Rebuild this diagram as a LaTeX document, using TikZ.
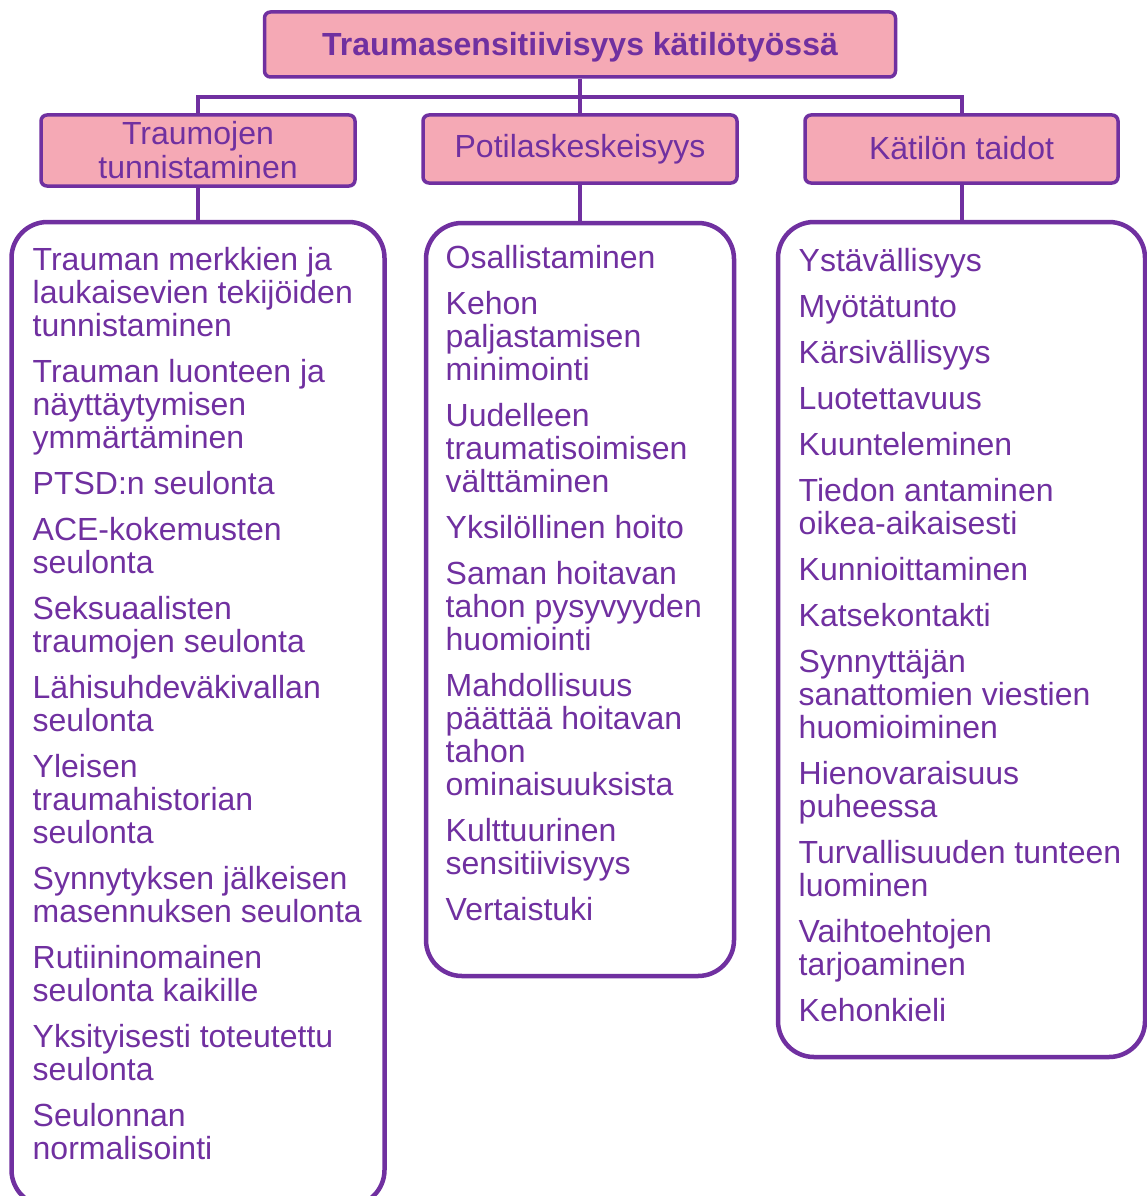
\documentclass[tikz,border=0pt]{standalone}
\usepackage{fontspec}
\setmainfont{Liberation Sans}
\usetikzlibrary{positioning}
\definecolor{lila}{HTML}{7030A0}
\definecolor{roosa}{HTML}{F5A9B5}

\begin{document}
\begin{tikzpicture}[x=1pt, y=-1pt,
  otsikko/.style={draw=lila, fill=roosa, line width=3.5pt, rounded corners=6pt,
    text=lila, font=\fontsize{32}{34}\selectfont, align=center, inner sep=0pt},
  lista/.style={draw=lila, line width=4.5pt, rounded corners=36pt},
  kohdat/.style={text=lila, font=\fontsize{32}{33}\selectfont, align=left,
    anchor=north west, inner sep=0pt},
  yhteys/.style={draw=lila, line width=4pt}]
  \useasboundingbox (0,0) rectangle (1147,1196);

  % Otsikot
  \node[otsikko, minimum width=631, minimum height=65, text height=28pt, text depth=6.7pt,
    font=\fontsize{32}{34}\selectfont\bfseries]
    (paa) at (580,44.5) {Traumasensitiivisyys kätilötyössä};
  \node[otsikko, minimum width=314, minimum height=71] (tunnistus) at (198,150.5)
    {Traumojen\\tunnistaminen};
  \node[otsikko, minimum width=314, minimum height=68] (potilas) at (580,149)
    {\raisebox{1pt}{Potilaskeskeisyys}};
  \node[otsikko, minimum width=313, minimum height=68] (taidot) at (961.5,149)
    {\raisebox{1.5pt}{Kätilön taidot}};

  % Listalaatikot
  \node[lista, minimum width=373, minimum height=984] (vasen) at (198,714) {};
  \node[lista, minimum width=308, minimum height=753] (keski) at (580,599.5) {};
  \node[lista, minimum width=367, minimum height=835] (oikea) at (961.5,639.5) {};

  % Yhteydet
  \coordinate (haara) at (580,97);
  \draw[yhteys] (paa.south) -- (haara);
  \draw[yhteys] (tunnistus.north) |- (haara) -| (taidot.north);
  \draw[yhteys] (haara) -- (potilas.north);
  \draw[yhteys] (tunnistus.south) -- (vasen.north);
  \draw[yhteys] (potilas.south) -- (keski.north);
  \draw[yhteys] (taidot.south) -- (oikea.north);

  % Kohdat
  \node[kohdat] (vasenteksti) at (32.5,247.5) {Trauman merkkien ja\\laukaisevien tekijöiden\\tunnistaminen\\[13pt]
    Trauman luonteen ja\\näyttäytymisen\\ymmärtäminen\\[13pt]
    PTSD:n seulonta\\[13pt]
    ACE-kokemusten\\seulonta\\[13pt]
    Seksuaalisten\\traumojen seulonta\\[13pt]
    Lähisuhdeväkivallan\\seulonta\\[13pt]
    Yleisen\\traumahistorian\\seulonta\\[13pt]
    Synnytyksen jälkeisen\\masennuksen seulonta\\[13pt]
    Rutiininomainen\\seulonta kaikille\\[13pt]
    Yksityisesti toteutettu\\seulonta\\[13pt]
    Seulonnan\\normalisointi};
  \node[kohdat] (keskiteksti) at (445.5,245.5) {Osallistaminen\\[13pt]
    Kehon\\paljastamisen\\minimointi\\[13pt]
    Uudelleen\\traumatisoimisen\\välttäminen\\[13pt]
    Yksilöllinen hoito\\[13pt]
    Saman hoitavan\\tahon pysyvyyden\\huomiointi\\[13pt]
    Mahdollisuus\\päättää hoitavan\\tahon\\ominaisuuksista\\[13pt]
    Kulttuurinen\\sensitiivisyys\\[13pt]
    Vertaistuki};
  \node[kohdat] (oikeateksti) at (798.5,248) {Ystävällisyys\\[13pt]
    Myötätunto\\[13pt]
    Kärsivällisyys\\[13pt]
    Luotettavuus\\[13pt]
    Kuunteleminen\\[13pt]
    Tiedon antaminen\\oikea-aikaisesti\\[13pt]
    Kunnioittaminen\\[13pt]
    Katsekontakti\\[13pt]
    Synnyttäjän\\sanattomien viestien\\huomioiminen\\[13pt]
    Hienovaraisuus\\puheessa\\[13pt]
    Turvallisuuden tunteen\\luominen\\[13pt]
    Vaihtoehtojen\\tarjoaminen\\[13pt]
    Kehonkieli};
\end{tikzpicture}
\end{document}
